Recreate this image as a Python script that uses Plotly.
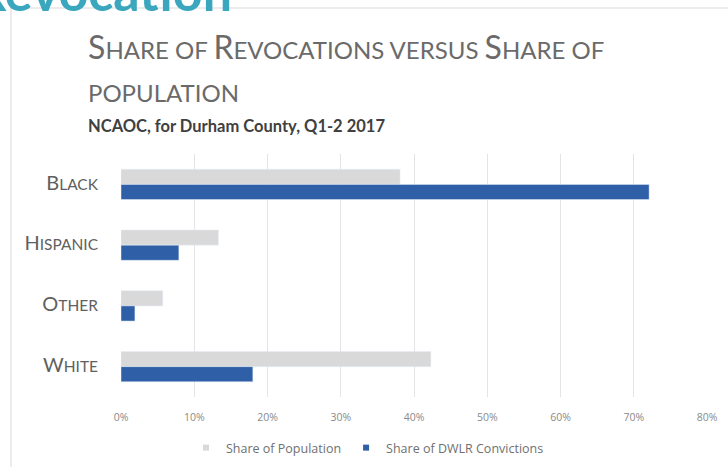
import plotly.graph_objects as go

categories = ["Black", "Hispanic", "Other", "White"]
cat_labels = ["B|LACK", "H|ISPANIC", "O|THER", "W|HITE"]
share_population = [0.381, 0.133, 0.057, 0.423]
share_dwlr = [0.721, 0.079, 0.019, 0.180]
x_ticks = [0, 0.1, 0.2, 0.3, 0.4, 0.5, 0.6, 0.7, 0.8]

GRAY_BAR = "#d9d9d9"
BLUE_BAR = "#2f5fa7"
TEXT_GRAY = "#6f6f6f"
FONT = "Lato"

W, H = 728, 467
L, R, T, B = 121, 21, 154, 70
pw = W - L - R
ph = H - T - B

def px_x(x):
    return (x - L) / pw

def px_y(y):
    return (H - B - y) / ph

def small_caps(lbl, big, small):
    first, rest = lbl.split("|")
    return (f"<span style='font-size:{big}px'>{first}</span>"
            f"<span style='font-size:{small}px'>{rest}</span>")

fig = go.Figure()
fig.add_trace(go.Bar(y=categories, x=share_population, orientation="h",
                     marker=dict(color=GRAY_BAR), name="Share of Population",
                     showlegend=False))
fig.add_trace(go.Bar(y=categories, x=share_dwlr, orientation="h",
                     marker=dict(color=BLUE_BAR), name="Share of DWLR Convictions",
                     showlegend=False))
# legend markers (small squares like the original)
fig.add_trace(go.Scatter(x=[None], y=[None], mode="markers", name="Share of Population",
                         marker=dict(symbol="square", size=6, color=GRAY_BAR)))
fig.add_trace(go.Scatter(x=[None], y=[None], mode="markers", name="Share of DWLR Convictions",
                         marker=dict(symbol="square", size=6, color=BLUE_BAR)))

fig.update_layout(
    width=W, height=H,
    margin=dict(l=L, r=R, t=T, b=B, autoexpand=False),
    paper_bgcolor="white", plot_bgcolor="white",
    barmode="group", bargap=0.5, bargroupgap=0,
    font=dict(family=FONT, color=TEXT_GRAY),
    showlegend=True,
    legend=dict(orientation="h", x=px_x(186), xanchor="left", y=px_y(448), yanchor="middle",
                font=dict(family="Open Sans", size=12.5, color="#707070"), itemwidth=30,
                bgcolor="rgba(0,0,0,0)"),
)
fig.update_xaxes(range=[0, 0.8], tickvals=x_ticks, tickformat=".0%",
                 showgrid=True, gridcolor="#e4e4e4", gridwidth=1,
                 zeroline=False, showline=False, ticks="",
                 tickfont=dict(family="Open Sans", size=10.5, color="#8a8a8a"),
                 ticklabelstandoff=12)
fig.update_yaxes(categoryorder="array", categoryarray=categories, autorange="reversed",
                 tickvals=categories,
                 ticktext=[small_caps(l, 20, 15.5) for l in cat_labels],
                 showgrid=False, zeroline=False, showline=False, ticks="",
                 tickfont=dict(size=15, color="#606060"), ticklabelstandoff=22)

title1 = (small_caps("S|HARE OF ", 32, 24) + small_caps("R|EVOCATIONS VERSUS ", 32, 24)
          + small_caps("S|HARE OF", 32, 24))
title2 = "<span style='font-size:24px'>POPULATION</span>"
fig.add_annotation(text=title1, xref="paper", yref="paper", x=px_x(86), y=px_y(46),
                   xanchor="left", yanchor="middle", showarrow=False,
                   font=dict(family=FONT, size=24, color="#6a6a6a"))
fig.add_annotation(text=title2, xref="paper", yref="paper", x=px_x(86), y=px_y(92),
                   xanchor="left", yanchor="middle", showarrow=False,
                   font=dict(family=FONT, size=24, color="#6a6a6a"))
fig.add_annotation(text="<b>NCAOC, for Durham County, Q1-2 2017</b>", xref="paper", yref="paper",
                   x=px_x(86), y=px_y(126), xanchor="left", yanchor="middle", showarrow=False,
                   font=dict(family=FONT, size=16.5, color="#404040"))
# clipped slide heading at the top edge
fig.add_annotation(text="<b>Revocation</b>", xref="paper", yref="paper",
                   x=px_x(234), y=px_y(24), xanchor="right", yanchor="bottom", showarrow=False,
                   font=dict(family=FONT, size=52, color="#3aa7bf"))
# frame of the embedded chart
fig.add_shape(type="line", xref="paper", yref="paper", x0=px_x(11), x1=px_x(11),
              y0=px_y(8), y1=px_y(467), line=dict(color="#e6e6e6", width=1.5))
fig.add_shape(type="line", xref="paper", yref="paper", x0=px_x(11), x1=px_x(728),
              y0=px_y(8), y1=px_y(8), line=dict(color="#e6e6e6", width=1.5))

fig.write_html("out.html")
